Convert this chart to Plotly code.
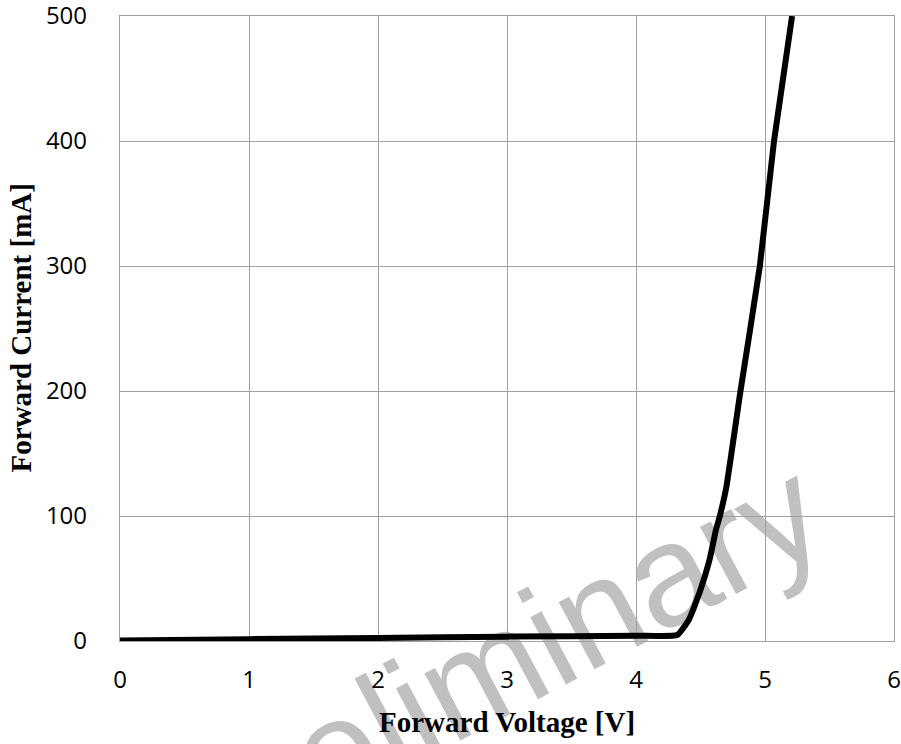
import plotly.graph_objects as go

# Forward voltage [V] and forward current [mA]
voltage = [0.0, 1.0, 2.0, 3.0, 4.0, 4.32, 4.41, 4.50, 4.57, 4.62, 4.65, 4.70, 4.81, 4.96, 5.07, 5.21]
current = [0.5, 1.5, 2.5, 3.5, 4.3, 4.8, 17, 41, 65, 89, 100, 123, 200, 300, 400, 500]

x_ticks = [0, 1, 2, 3, 4, 5, 6]
y_ticks = [0, 100, 200, 300, 400, 500]

GRID = "#a0a0a0"
TICKFONT = dict(family="Open Sans, Noto Sans, sans-serif", size=24, color="#000")
TITLEFONT = dict(family="Liberation Serif, Times New Roman, serif", size=29, color="#000")

fig = go.Figure()
fig.add_trace(go.Scatter(
    x=voltage, y=current, mode="lines",
    line=dict(color="#000", width=6, shape="spline", smoothing=0.4),
    showlegend=False, hoverinfo="skip",
))

fig.update_layout(
    width=901, height=744,
    margin=dict(l=120, r=7, t=16, b=103, autoexpand=False),
    paper_bgcolor="white",
    plot_bgcolor="rgba(0,0,0,0)",
    xaxis=dict(
        range=[0, 6], tickvals=x_ticks, ticktext=[str(v) for v in x_ticks],
        showgrid=True, gridcolor=GRID, gridwidth=1.3,
        showline=True, linecolor=GRID, linewidth=1.3, mirror=True,
        zeroline=False, ticks="", tickfont=TICKFONT, ticklabelstandoff=17,
        ticklabeloverflow="allow", fixedrange=True, automargin=False,
    ),
    yaxis=dict(
        range=[0, 500], tickvals=y_ticks, ticktext=[str(v) for v in y_ticks],
        showgrid=True, gridcolor=GRID, gridwidth=1.3,
        showline=True, linecolor=GRID, linewidth=1.3, mirror=True,
        zeroline=False, ticks="", tickfont=TICKFONT, ticklabelstandoff=27,
        ticklabeloverflow="allow", fixedrange=True, automargin=False,
    ),
    shapes=[dict(
        type="rect", xref="paper", yref="paper",
        x0=0.462, x1=0.482, y0=-0.033, y1=-0.013,
        line=dict(width=0), fillcolor="rgba(0,0,0,0)", layer="below",
        label=dict(text="Preliminary", textangle=-28, textposition="middle center",
                   font=dict(family="Liberation Sans, Arial, sans-serif", size=144, color="#c0c0c0")),
    )],
    annotations=[
        dict(text="<b>Forward Voltage [V]</b>", xref="paper", yref="paper",
             x=0.5, y=0, xanchor="center", yanchor="middle", yshift=-81,
             showarrow=False, font=TITLEFONT),
        dict(text="<b>Forward Current [mA]</b>", xref="paper", yref="paper",
             x=0, y=0.5, xanchor="center", yanchor="middle", xshift=-100,
             textangle=-90, showarrow=False, font=TITLEFONT),
    ],
)

fig.write_html("out.html", config={"displayModeBar": False},
               post_script="document.body.style.margin='0';document.body.style.overflow='hidden';")
